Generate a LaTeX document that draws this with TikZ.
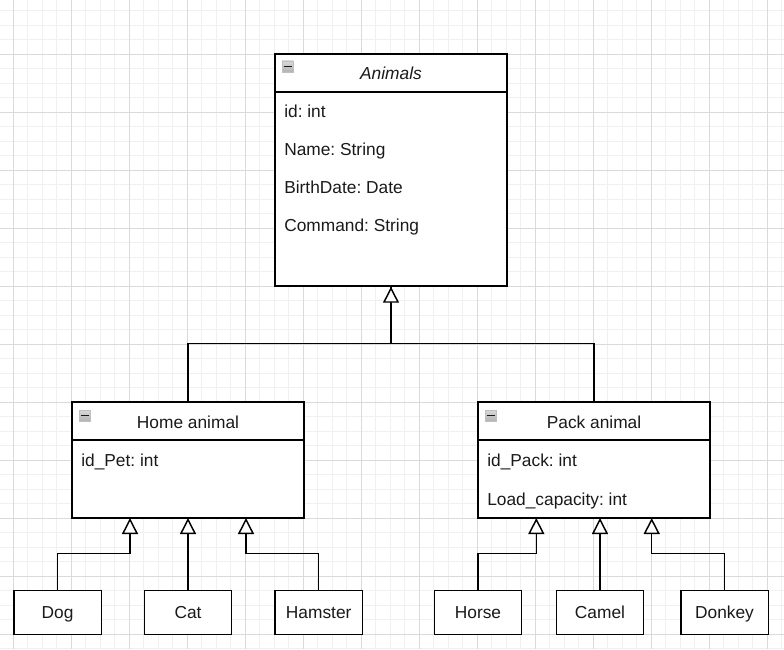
\documentclass[tikz,border=0pt]{standalone}
\usepackage{fontspec}
\setmainfont{Liberation Sans}
\usetikzlibrary{arrows.meta}
\definecolor{txt}{HTML}{1A1A1A}
\definecolor{gmin}{HTML}{F0F0F0}
\definecolor{gmaj}{HTML}{DADADA}
\frenchspacing
\begin{document}
\begin{tikzpicture}[x=0.75pt,y=-0.75pt,
  font=\fontsize{13pt}{15pt}\selectfont,
  every node/.style={text height=9.4pt,text depth=0pt},
  box/.style={draw=black,line width=1.1pt,fill=white,inner sep=0pt,text=txt},
  classbox/.style={box,minimum width=174pt},
  leaf/.style={box,minimum width=65.6pt,minimum height=33pt},
  attr/.style={anchor=west,inner sep=0pt,text=txt},
  title/.style={inner sep=0pt,text=txt},
  divider/.style={line width=1.1pt,draw=black},
  inh/.style={line width=1.1pt,draw=black,-{Triangle[length=12pt,width=12pt,fill=white,line width=1.1pt]}},
  link/.style={line width=1.1pt,draw=black},
  icon/.style={draw=gray!50,line width=0.6pt,top color=gray!30,bottom color=gray!60},
  iconbar/.style={draw=gray!20!black,line width=1pt}
]
\useasboundingbox (0,0) rectangle (784,649);
\fill[white] (0,0) rectangle (784,649);
% grid
\foreach \i in {0,...,55} {
  \draw[gmin,line width=0.6pt] ({-1.2+\i*14.5},0) -- ({-1.2+\i*14.5},649);
}
\foreach \j in {0,...,45} {
  \draw[gmin,line width=0.6pt] (0,{-4+\j*14.5}) -- (784,{-4+\j*14.5});
}
\foreach \i in {0,...,13} {
  \draw[gmaj,line width=0.6pt] ({13.3+\i*58},0) -- ({13.3+\i*58},649);
}
\foreach \j in {0,...,11} {
  \draw[gmaj,line width=0.6pt] (0,{-4+\j*58}) -- (784,{-4+\j*58});
}

% Animals
\node[classbox,minimum height=174pt] (animals) at (391,170) {};
\draw[divider] (275,92) -- (507,92);
\draw[icon] (282,61) rectangle (293,72);
\draw[iconbar] (283.5,66.5) -- (291.5,66.5);
\node[title,font=\fontsize{13pt}{15pt}\selectfont\itshape] (animalsT) at (391,73) {Animals};
\node[attr] (a1) at (284,111.3) {id: int};
\node[attr] (a2) at (284,149.7) {Name: String};
\node[attr] (a3) at (284,187.3) {BirthDate: Date};
\node[attr] (a4) at (284,225.3) {Command: String};

% Home animal
\node[classbox,minimum height=87pt] (home) at (188,460) {};
\draw[divider] (72,440) -- (304,440);
\draw[icon] (79,410) rectangle (90,421);
\draw[iconbar] (80.5,415.5) -- (88.5,415.5);
\node[title] (homeT) at (188,422) {Home animal};
\node[attr] (h1) at (81,460.5) {id\_Pet: int};

% Pack animal
\node[classbox,minimum height=87pt] (pack) at (594,460) {};
\draw[divider] (478,440) -- (710,440);
\draw[icon] (485,410) rectangle (496,421);
\draw[iconbar] (486.5,415.5) -- (494.5,415.5);
\node[title] (packT) at (594,422) {Pack animal};
\node[attr] (p1) at (487,460.7) {id\_Pack: int};
\node[attr] (p2) at (487,499) {Load\_capacity: int};

% leaves
\node[leaf] (dog) at (57.5,612.3) {Dog};
\node[leaf] (cat) at (188,612.3) {Cat};
\node[leaf] (hamster) at (318.7,612.3) {Hamster};
\node[leaf] (horse) at (478,612.3) {Horse};
\node[leaf] (camel) at (600,612.3) {Camel};
\node[leaf] (donkey) at (724.5,612.3) {Donkey};

% attachment points
\coordinate (hd) at (130,518);
\coordinate (hc) at (188,518);
\coordinate (hh) at (246,518);
\coordinate (pho) at (536.3,518);
\coordinate (pca) at (600,518);
\coordinate (pdo) at (651.7,518);

% connectors
\draw[link] (pack.north) -- ++(0,-58) -| (animals.south);
\draw[inh] (home.north) -- ++(0,-58) -| (animals.south);
\draw[inh] (dog.north) -- ++(0,-36) -| (hd);
\draw[inh] (cat.north) -- (hc);
\draw[inh] (hamster.north) -- ++(0,-36) -| (hh);
\draw[inh] (horse.north) -- ++(0,-36) -| (pho);
\draw[inh] (camel.north) -- (pca);
\draw[inh] (donkey.north) -- ++(0,-36) -| (pdo);
\end{tikzpicture}
\end{document}
